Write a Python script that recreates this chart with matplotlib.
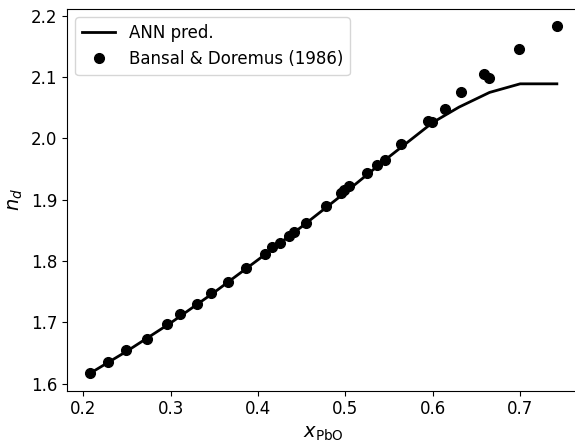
import numpy as np
import matplotlib
matplotlib.use("Agg")
import matplotlib.pyplot as plt

# Bansal & Doremus (1986) measurements
x_exp = [0.208, 0.228, 0.249, 0.273, 0.296, 0.311, 0.330, 0.346, 0.366, 0.386,
         0.408, 0.416, 0.425, 0.435, 0.441, 0.455, 0.478, 0.4955, 0.498, 0.504,
         0.525, 0.536, 0.545, 0.5635, 0.594, 0.599, 0.614, 0.632, 0.659, 0.664,
         0.699, 0.742]
n_exp = [1.618, 1.636, 1.654, 1.673, 1.697, 1.713, 1.730, 1.747, 1.765, 1.788,
         1.811, 1.822, 1.830, 1.841, 1.848, 1.862, 1.889, 1.911, 1.915, 1.922,
         1.943, 1.957, 1.965, 1.991, 2.028, 2.027, 2.048, 2.076, 2.105, 2.099,
         2.146, 2.183]

# ANN prediction curve
x_ann = [0.208, 0.25, 0.30, 0.35, 0.40, 0.45, 0.50, 0.55, 0.60, 0.63, 0.665, 0.70, 0.742]
n_ann = [1.617, 1.653, 1.699, 1.749, 1.802, 1.856, 1.912, 1.970, 2.026, 2.051, 2.075, 2.089, 2.089]

fig = plt.figure(figsize=(5.75, 4.43), dpi=100)
# axes run past the right edge, the original was cropped there
ax = fig.add_axes([0.1165, 0.1185, 0.8925, 0.8615])

ax.plot(x_ann, n_ann, color="black", lw=2, label="ANN pred.")
ax.plot(x_exp, n_exp, "o", color="black", ms=7, label="Bansal & Doremus (1986)")

ax.set_xlabel(r"$x_{\mathrm{PbO}}$", fontsize=14)
ax.set_ylabel(r"$n_d$", fontsize=14)
ax.tick_params(labelsize=12)
ax.spines["right"].set_visible(False)
ax.legend(loc="upper left", fontsize=12)

fig.savefig("out.png", dpi=100)
